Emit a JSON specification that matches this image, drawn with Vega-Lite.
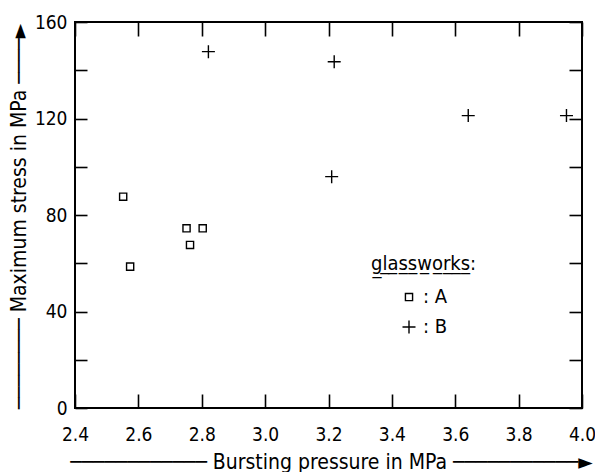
{
  "$schema": "https://vega.github.io/schema/vega-lite/v6.json",
  "width": 507,
  "height": 386,
  "autosize": {"type": "none"},
  "padding": {"left": 75, "top": 22, "right": 13, "bottom": 64},
  "background": "white",
  "config": {
    "view": {"stroke": "black", "strokeWidth": 2},
    "font": "DejaVu Sans Condensed, DejaVu Sans",
    "axis": {
      "domain": false,
      "grid": false,
      "tickColor": "black",
      "tickWidth": 1.6,
      "labelColor": "black",
      "titleColor": "black",
      "labelFont": "DejaVu Sans Condensed, DejaVu Sans",
      "titleFont": "DejaVu Sans Condensed, DejaVu Sans",
      "labelFontSize": 19,
      "titleFontSize": 21,
      "titleFontWeight": "normal"
    },
    "legend": {
      "labelFont": "DejaVu Sans Condensed, DejaVu Sans",
      "titleFont": "DejaVu Sans Condensed, DejaVu Sans"
    }
  },
  "data": {
    "values": [
      {"pressure": 2.552, "stress": 87.6, "glassworks": "A"},
      {"pressure": 2.574, "stress": 58.6, "glassworks": "A"},
      {"pressure": 2.752, "stress": 74.5, "glassworks": "A"},
      {"pressure": 2.763, "stress": 67.6, "glassworks": "A"},
      {"pressure": 2.803, "stress": 74.5, "glassworks": "A"},
      {"pressure": 2.821, "stress": 147.7, "glassworks": "B"},
      {"pressure": 3.210, "stress": 95.9, "glassworks": "B"},
      {"pressure": 3.218, "stress": 143.5, "glassworks": "B"},
      {"pressure": 3.641, "stress": 121.2, "glassworks": "B"},
      {"pressure": 3.951, "stress": 121.2, "glassworks": "B"}
    ]
  },
  "layer": [
    {
      "mark": {"type": "point", "filled": false, "stroke": "black", "strokeWidth": 1.4, "opacity": 1, "size": 169},
      "encoding": {
        "x": {
          "field": "pressure", "type": "quantitative",
          "scale": {"domain": [2.4, 4.0], "nice": false, "zero": false},
          "axis": {
            "orient": "bottom",
            "values": [2.4, 2.6, 2.8, 3.0, 3.2, 3.4, 3.6, 3.8, 4.0],
            "format": ".1f",
            "tickSize": -14,
            "labelPadding": 46,
            "labelBaseline": "alphabetic",
            "labelFlush": false,
            "title": "────────────  Bursting pressure in MPa  ───────────►",
            "titleX": 256,
            "titleY": 60,
            "titleBaseline": "alphabetic"
          }
        },
        "y": {
          "field": "stress", "type": "quantitative",
          "scale": {"domain": [0, 160], "nice": false},
          "axis": {
            "orient": "left",
            "values": [0, 20, 40, 60, 80, 100, 120, 140, 160],
            "labelExpr": "datum.value % 40 == 0 ? datum.label : ''",
            "tickSize": -12,
            "labelPadding": 20,
            "labelFlush": false,
            "title": "────────  Maximum stress in MPa  ────►",
            "titleX": -50,
            "titleY": 194,
            "titleBaseline": "alphabetic"
          }
        },
        "shape": {
          "field": "glassworks", "type": "nominal",
          "scale": {"domain": ["A", "B"], "range": ["M-0.55,-0.55H0.55V0.55H-0.55Z", "M-1,0H1M0,-1V1"]},
          "legend": {
            "orient": "none",
            "legendX": 296,
            "legendY": 232,
            "title": "g̲l̲a̲s̲s̲w̲o̲r̲k̲s̲:",
            "titleFontSize": 20,
            "titleFontWeight": "normal",
            "titleColor": "black",
            "titlePadding": 13,
            "labelFontSize": 20,
            "labelColor": "black",
            "labelExpr": "':  ' + datum.label",
            "symbolOffset": 28,
            "symbolSize": 169,
            "symbolStrokeColor": "black",
            "symbolStrokeWidth": 1.4,
            "symbolFillColor": "transparent",
            "rowPadding": 10,
            "padding": 0
          }
        }
      }
    },
    {
      "mark": {"type": "point", "opacity": 0},
      "encoding": {
        "x": {
          "field": "pressure", "type": "quantitative",
          "scale": {"domain": [2.4, 4.0], "nice": false, "zero": false},
          "axis": {
            "orient": "top",
            "values": [2.4, 2.6, 2.8, 3.0, 3.2, 3.4, 3.6, 3.8, 4.0],
            "labels": false,
            "tickSize": -14,
            "title": null
          }
        },
        "y": {
          "field": "stress", "type": "quantitative",
          "scale": {"domain": [0, 160], "nice": false},
          "axis": {
            "orient": "right",
            "values": [0, 20, 40, 60, 80, 100, 120, 140, 160],
            "labels": false,
            "tickSize": -13,
            "title": null
          }
        }
      }
    }
  ],
  "resolve": {"axis": {"x": "independent", "y": "independent"}}
}
